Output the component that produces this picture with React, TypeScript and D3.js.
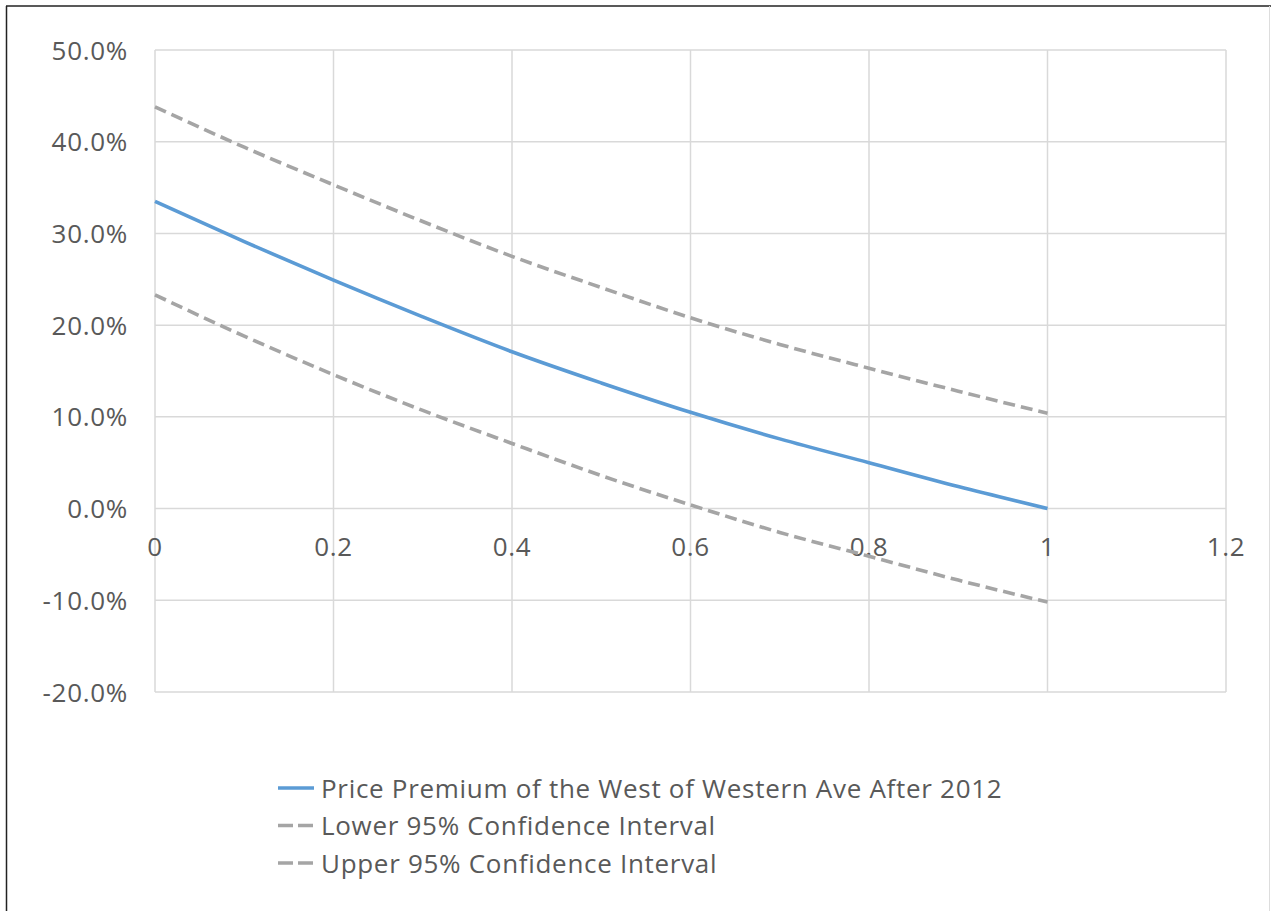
import React from 'react'
import * as d3 from 'd3'

// x values (share / distance) and the three series, in percent
const xValues = [0, 0.1, 0.2, 0.3, 0.4, 0.5, 0.6, 0.7, 0.8, 0.9, 1.0]
const premium = [33.5, 29.1, 24.9, 20.9, 17.1, 13.7, 10.5, 7.6, 5.0, 2.4, 0]
const lowerCI = [23.3, 18.8, 14.6, 10.7, 7.1, 3.6, 0.4, -2.6, -5.2, -7.8, -10.2]
const upperCI = [43.8, 39.4, 35.3, 31.3, 27.5, 24.1, 20.8, 17.9, 15.3, 12.8, 10.4]

const xTicks = [0, 0.2, 0.4, 0.6, 0.8, 1, 1.2]
const yTicks = [-20, -10, 0, 10, 20, 30, 40, 50]

const legendNames = [
  'Price Premium of the West of Western Ave After 2012',
  'Lower 95% Confidence Interval',
  'Upper 95% Confidence Interval',
]

const BLUE = '#5b9bd5'
const GRAY = '#a5a5a5'
const TEXT = '#595959'
const GRID = '#d9d9d9'
const FONT = '"Open Sans", "Noto Sans", sans-serif'
const FS = 26
const LS = 0.7

export default function App() {
  const width = 1271
  const height = 911

  // plot area
  const x = d3.scaleLinear().domain([0, 1.2]).range([155, 1226])
  const y = d3.scaleLinear().domain([-20, 50]).range([692, 50])

  const line = d3
    .line<[number, number]>()
    .x(d => x(d[0]))
    .y(d => y(d[1]))
    .curve(d3.curveMonotoneX)

  const pts = (vals: number[]) => xValues.map((v, i) => [v, vals[i]] as [number, number])

  const series = [
    { name: legendNames[0], vals: premium, color: BLUE, dash: null },
    { name: legendNames[1], vals: lowerCI, color: GRAY, dash: '12,6' },
    { name: legendNames[2], vals: upperCI, color: GRAY, dash: '12,6' },
  ]

  // hyphen rather than d3's unicode minus, as in the original
  const pct = (t: number) => t.toFixed(1) + '%'

  return (
    <svg
      width={width}
      height={height}
      style={{ position: 'absolute', left: 0, top: 0, background: '#fff' }}
      fontFamily={FONT}
    >
      <rect x={0} y={0} width={width} height={height} fill="#fff" />
      {/* outer frame */}
      <line x1={6} y1={6} x2={width} y2={6} stroke="#222" strokeWidth={1.5} />
      <line x1={6.5} y1={6} x2={6.5} y2={height} stroke="#222" strokeWidth={1.5} />
      <line x1={1269.5} y1={6} x2={1269.5} y2={height} stroke="#ddd" strokeWidth={1} />

      {/* gridlines */}
      {yTicks.map(t => (
        <line key={'gy' + t} x1={x(0)} x2={x(1.2)} y1={y(t)} y2={y(t)} stroke={GRID} strokeWidth={1.5} />
      ))}
      {xTicks.map(t => (
        <line key={'gx' + t} x1={x(t)} x2={x(t)} y1={y(50)} y2={y(-20)} stroke={GRID} strokeWidth={1.5} />
      ))}

      {/* y labels */}
      {yTicks.map(t => (
        <text key={'ly' + t} x={128} y={y(t) + 9.5} textAnchor="end" fontSize={FS} letterSpacing={LS} fill={TEXT}>
          {pct(t)}
        </text>
      ))}

      {/* x labels, sitting on the zero axis */}
      {xTicks.map(t => (
        <text key={'lx' + t} x={x(t)} y={y(0) + 47} textAnchor="middle" fontSize={FS} letterSpacing={LS} fill={TEXT}>
          {String(t)}
        </text>
      ))}

      {/* series */}
      {series.map(s => (
        <path
          key={s.name}
          d={line(pts(s.vals)) || ''}
          fill="none"
          stroke={s.color}
          strokeWidth={3.6}
          strokeDasharray={s.dash || undefined}
        />
      ))}

      {/* legend */}
      {series.map((s, i) => {
        const ly = 788 + i * 37.5
        return (
          <g key={'lg' + i}>
            <line
              x1={278}
              x2={314}
              y1={ly}
              y2={ly}
              stroke={s.color}
              strokeWidth={3.6}
              strokeDasharray={s.dash ? '15,5' : undefined}
            />
            <text x={321} y={ly + 9.5} fontSize={FS} letterSpacing={LS} fill={TEXT}>
              {s.name}
            </text>
          </g>
        )
      })}
    </svg>
  )
}
